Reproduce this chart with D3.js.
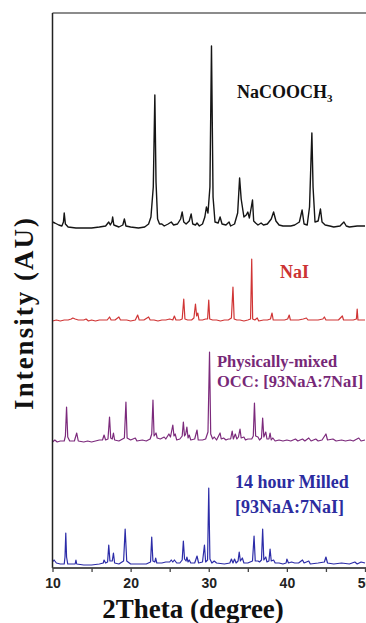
<!DOCTYPE html>
<html>
<head>
<meta charset="utf-8">
<script src="https://cdn.jsdelivr.net/npm/d3@7"></script>
<style>
  html, body { margin: 0; padding: 0; background: #fff; overflow: hidden; }
  #content { width: 366px; height: 623px; }
  .lbl { font-family: "Liberation Serif", "Times New Roman", serif; font-weight: bold; }
  .xaxis text { font-family: "Liberation Sans", Arial, sans-serif; font-weight: bold; font-size: 14px; fill: #222; }
</style>
</head>
<body>
<div id="content"></div>
<script>
// tick labels
var xTicks = [10, 20, 30, 40, 50];
var xMinorTicks = [15, 25, 35, 45];

// series names (bottom to top) and vertical offsets of each trace (AU)
var seriesNames = ['milled', 'mixed', 'nai', 'acetate'];
var seriesOffsets = [3, 126, 247, 341];

// [2theta, intensity above own baseline]
var milled = [[10.0,3],[10.2,5],[10.5,2],[11.0,1],[11.5,1],[11.6,8],[11.7,32],[11.8,8],[11.95,1],[12.5,1],[12.9,1],[13.0,5],[13.1,1],[14,0],[15,0],[16,1],[16.5,2],[16.6,5],[16.8,2],[17.05,3],[17.2,20],[17.35,4],[17.65,4],[17.8,12],[17.95,2],[18.5,1],[19.1,4],[19.3,36],[19.5,4],[20,1],[21,1],[22,1],[22.55,3],[22.7,28],[22.85,4],[23.1,3],[23.2,7],[23.35,2],[24,2],[24.5,3],[25.0,3],[25.2,5],[25.4,3],[25.6,5],[25.9,2],[26.3,2],[26.6,5],[26.75,24],[26.9,6],[27.1,4],[27.2,8],[27.35,3],[27.5,5],[27.7,2],[28.2,2],[28.5,9],[28.7,2],[29.2,3],[29.45,20],[29.6,3],[29.85,5],[30.0,77],[30.15,6],[30.4,2],[30.7,4],[31,2],[32,1],[32.7,2],[32.9,6],[33.1,2],[33.3,6],[33.5,2],[33.75,4],[33.9,13],[34.05,4],[34.3,7],[34.5,2],[35,2],[35.6,4],[35.8,29],[35.95,4],[36.3,4],[36.5,3],[36.75,5],[36.9,36],[37.05,5],[37.3,8],[37.45,3],[37.7,4],[37.85,16],[38.0,4],[38.3,5],[38.5,2],[39,2],[39.5,1],[39.9,2],[40.0,6],[40.2,2],[40.6,3],[41,2],[41.5,2],[42.0,5],[42.2,2],[42.8,4],[43,1],[44,2],[44.8,3],[45.0,8],[45.2,2],[46,1],[47,2],[48,1],[48.7,3],[49,1],[49.5,3],[50,2]];

var mixed = [[10.0,0],[10.3,2],[10.6,0],[11.0,1],[11.5,1],[11.65,6],[11.8,35],[11.95,5],[12.2,1],[12.8,1],[13.1,9],[13.3,1],[14,0],[14.5,1],[15,0],[15.5,1],[16,2],[16.4,2],[16.6,7],[16.8,2],[17.1,3],[17.3,25],[17.45,4],[17.65,3],[17.8,9],[17.95,2],[18.5,1],[19.2,4],[19.4,40],[19.55,4],[20,2],[20.6,4],[20.8,1],[21.5,2],[22,1],[22.5,3],[22.7,8],[22.86,42],[23.0,6],[23.25,9],[23.4,4],[23.8,3],[24.3,5],[24.5,3],[24.9,8],[25.1,5],[25.4,17],[25.55,6],[25.7,8],[25.9,2],[26.3,3],[26.6,6],[26.75,20],[26.9,6],[27.05,8],[27.2,15],[27.35,4],[27.5,7],[27.7,2],[28.2,3],[28.5,12],[28.65,2],[29.2,2],[29.6,3],[29.9,10],[30.1,90],[30.25,8],[30.5,3],[30.7,5],[31.0,2],[31.45,9],[31.6,3],[31.9,4],[32.2,2],[32.5,3],[32.8,3],[33.0,11],[33.15,3],[33.4,8],[33.6,3],[33.8,5],[34.0,13],[34.15,4],[34.5,5],[34.7,2],[35.0,3],[35.5,3],[35.7,6],[35.85,39],[36.0,6],[36.3,5],[36.5,2],[36.75,4],[36.9,24],[37.05,5],[37.3,10],[37.45,3],[37.7,3],[37.85,9],[38.0,2],[38.2,4],[38.5,1],[39,2],[39.5,1],[40,2],[40.5,1],[41.1,3],[41.4,1],[42,3],[42.3,1],[42.8,4],[43.1,1],[43.7,3],[44,1],[44.5,2],[45.0,8],[45.2,2],[45.9,3],[46.3,1],[47,2],[47.5,1],[48.1,2],[48.5,1],[49.2,4],[49.5,1],[50,2]];

var nai = [[10,0],[10.5,1],[11,0],[11.5,1],[12,1],[12.4,2],[12.6,3],[12.9,2],[13.3,1],[14,1],[14.3,2],[14.6,0],[15,1],[15.5,0],[16,1],[16.5,1],[17.0,1],[17.3,4],[17.5,1],[18.0,1],[18.5,4],[18.7,1],[19.5,1],[20,0],[20.6,1],[20.9,6],[21.1,1],[21.7,1],[22.3,4],[22.5,1],[23,1],[23.5,0],[24,1],[24.5,1],[25,2],[25.4,1],[25.6,5],[25.8,1],[26.3,1],[26.6,2],[26.8,22],[26.95,2],[27.3,1],[27.8,1],[28.1,3],[28.3,17],[28.45,5],[28.6,8],[28.75,1],[29.2,1],[29.6,2],[29.85,2],[30.0,21],[30.12,2],[30.5,1],[31,1],[31.5,0],[32,1],[32.5,1],[32.9,3],[33.1,34],[33.25,2],[33.6,1],[34,1],[34.5,0],[35,1],[35.35,2],[35.5,62],[35.62,2],[35.9,1],[36.2,3],[36.4,0],[37,1],[37.5,1],[37.9,2],[38.1,8],[38.25,1],[38.7,1],[39.2,1],[39.7,1],[40.1,2],[40.3,6],[40.45,1],[41,1],[41.5,1],[42.1,2],[42.5,3],[42.7,1],[43.3,1],[44,1],[44.6,2],[44.8,4],[45,1],[45.5,1],[46,1],[46.6,1],[47.1,5],[47.25,1],[47.8,1],[48.5,1],[48.9,2],[49.0,12],[49.1,1],[49.5,1],[50,1]];

var acetate = [[10.0,5],[10.3,4],[10.8,2],[11.2,1],[11.4,5],[11.5,14],[11.65,3],[12,0],[13,-1],[14,-1],[15,-1],[16,0],[16.8,1],[17.2,5],[17.4,2],[17.6,5],[17.7,10],[17.85,2],[18.5,0],[19.0,2],[19.2,8],[19.4,1],[20,0],[21,-1],[21.8,0],[22.3,3],[22.6,10],[22.9,40],[23.1,132],[23.25,45],[23.45,8],[23.7,3],[24.0,3],[24.3,1],[24.8,3],[25.2,5],[25.5,2],[26.0,3],[26.4,8],[26.6,15],[26.8,5],[27.1,3],[27.5,6],[27.75,13],[27.95,3],[28.3,2],[28.5,4],[28.8,1],[29.2,3],[29.5,10],[29.7,20],[29.9,14],[30.15,40],[30.35,181],[30.55,30],[30.8,5],[31.2,4],[31.45,10],[31.7,3],[32.2,2],[32.6,5],[32.8,1],[33.3,3],[33.7,14],[33.95,49],[34.15,28],[34.5,10],[34.8,12],[35.0,15],[35.2,9],[35.45,20],[35.6,27],[35.75,6],[36,4],[36.3,2],[36.7,4],[37.0,2],[37.5,3],[38.0,8],[38.3,15],[38.6,6],[39,2],[39.5,1],[40,1],[40.5,1],[41,2],[41.6,5],[41.95,17],[42.2,3],[42.6,2],[42.9,20],[43.1,70],[43.2,94],[43.35,40],[43.6,5],[44.0,6],[44.3,18],[44.5,5],[44.9,2],[45.5,1],[46,0],[46.8,1],[47.3,5],[47.6,1],[48,0],[49,1],[50,1]];

var seriesData = [milled, mixed, nai, acetate];
var seriesColors = ['#2c2ca8', '#7c2a7c', '#d03535', '#151515'];

(function() {

  // Set margin parameters
  var margin = {top: 13, right: 1, bottom: 55, left: 52.5},
      W = 366, H = 623,
      width = 365 - margin.left,
      height = H - margin.top - margin.bottom;

  var x = d3.scaleLinear().domain([10, 50]).range([0, width]);
  var y = d3.scaleLinear().domain([0, 555]).range([height, 0]);

  var svg = d3.select('#content')
      .append('svg')
      .attr('width', W)
      .attr('height', H);

  var g = svg.append('g')
      .attr('transform', 'translate(' + margin.left + ',' + margin.top + ')');

  // Draw lines
  var line = d3.line()
      .x(function(d) { return x(d[0]); })
      .y(function(d) { return y(d[1] + d.off); });

  seriesData.forEach(function(data, i) {
    var pts = data.map(function(d) { var p = d.slice(); p.off = seriesOffsets[i]; return p; });
    g.append('path')
        .datum(pts)
        .attr('class', 'trace ' + seriesNames[i])
        .attr('fill', 'none')
        .attr('stroke', seriesColors[i])
        .attr('stroke-width', i === 3 ? 1.4 : 1.2)
        .attr('stroke-linejoin', 'round')
        .attr('d', line);
  });

  // frame: top border
  g.append('line')
      .attr('x1', 0).attr('x2', W - margin.left)
      .attr('y1', 0).attr('y2', 0)
      .attr('stroke', '#666')
      .attr('stroke-width', 1.5);

  // left axis line
  g.append('line')
      .attr('x1', 0).attr('x2', 0)
      .attr('y1', 0).attr('y2', height)
      .attr('stroke', '#222')
      .attr('stroke-width', 1.5);

  // Append x axis
  var xAxis = g.append('g')
      .attr('class', 'xaxis')
      .attr('transform', 'translate(0,' + height + ')')
      .call(d3.axisBottom(x)
        .tickValues(xTicks)
        .tickSize(4)
        .tickPadding(6)
        .tickFormat(d3.format('d')));
  xAxis.select('.domain')
      .attr('d', 'M0,0H' + (W - margin.left))
      .attr('stroke', '#555')
      .attr('stroke-width', 2.2);
  xAxis.selectAll('.tick line').attr('stroke', '#444').attr('stroke-width', 1.3);

  // minor ticks
  g.append('g')
      .attr('transform', 'translate(0,' + height + ')')
      .call(d3.axisBottom(x).tickValues(xMinorTicks).tickSize(4).tickFormat(''))
      .call(function(s) { s.select('.domain').remove(); })
      .selectAll('.tick line').attr('stroke', '#444').attr('stroke-width', 1.3);

  // series labels
  var acetateLbl = svg.append('text')
      .attr('class', 'lbl')
      .attr('x', 237).attr('y', 98)
      .attr('font-size', 18)
      .attr('fill', '#111')
      .text('NaCOOCH');
  acetateLbl.append('tspan')
      .attr('dy', 4)
      .attr('font-size', 11)
      .text('3');

  svg.append('text')
      .attr('class', 'lbl')
      .attr('x', 280).attr('y', 278)
      .attr('font-size', 18)
      .attr('fill', '#c33')
      .text('NaI');

  svg.append('text')
      .attr('class', 'lbl')
      .attr('x', 217).attr('y', 367)
      .attr('font-size', 16.5)
      .attr('fill', '#772877')
      .text('Physically-mixed');
  svg.append('text')
      .attr('class', 'lbl')
      .attr('x', 217).attr('y', 387)
      .attr('font-size', 16.5)
      .attr('fill', '#772877')
      .text('OCC: [93NaA:7NaI]');

  svg.append('text')
      .attr('class', 'lbl')
      .attr('x', 235).attr('y', 488)
      .attr('font-size', 18)
      .attr('fill', '#2c2ca0')
      .text('14 hour Milled');
  svg.append('text')
      .attr('class', 'lbl')
      .attr('x', 235).attr('y', 513)
      .attr('font-size', 18)
      .attr('fill', '#2c2ca0')
      .text('[93NaA:7NaI]');

  // axis titles
  svg.append('text')
      .attr('class', 'lbl')
      .attr('x', 193).attr('y', 618)
      .attr('font-size', 27)
      .attr('fill', '#111')
      .style('text-anchor', 'middle')
      .text('2Theta (degree)');

  svg.append('text')
      .attr('class', 'lbl')
      .attr('transform', 'translate(33,313) rotate(-90)')
      .attr('font-size', 27)
      .attr('fill', '#111')
      .style('text-anchor', 'middle')
      .style('letter-spacing', '2px')
      .text('Intensity (AU)');

})();
</script>
</body>
</html>
